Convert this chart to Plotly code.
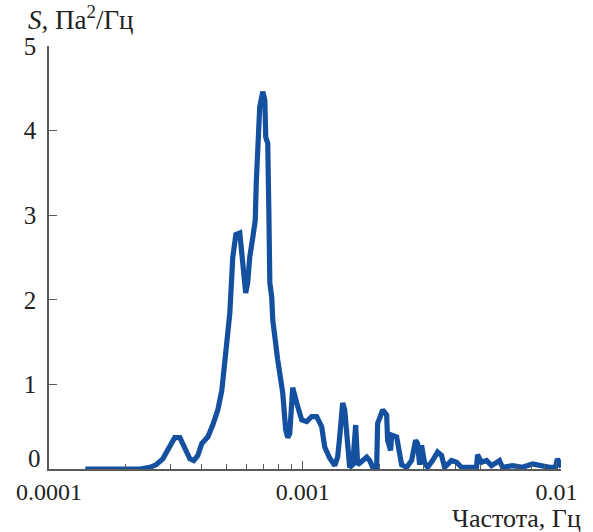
import plotly.graph_objects as go

# Frequency (Hz) and spectral density S (Pa^2/Hz)
freq = [1.39e-4, 1.59e-4, 1.90e-4, 2.28e-4, 2.50e-4, 2.64e-4, 2.81e-4, 2.97e-4,
        3.13e-4, 3.28e-4, 3.46e-4, 3.59e-4, 3.72e-4, 3.86e-4, 4.00e-4, 4.23e-4,
        4.42e-4, 4.63e-4, 4.80e-4, 4.93e-4, 5.07e-4, 5.16e-4, 5.30e-4, 5.45e-4,
        5.65e-4, 5.75e-4, 5.80e-4, 5.96e-4, 6.07e-4, 6.18e-4, 6.36e-4, 6.50e-4,
        6.56e-4, 6.65e-4, 6.77e-4, 6.96e-4, 7.09e-4, 7.15e-4, 7.28e-4, 7.35e-4,
        7.42e-4, 7.55e-4, 7.62e-4, 7.97e-4, 8.34e-4, 8.57e-4, 8.73e-4, 8.89e-4,
        9.13e-4, 9.47e-4, 9.91e-4, 1.037e-3, 1.085e-3, 1.135e-3, 1.188e-3, 1.221e-3,
        1.277e-3, 1.337e-3, 1.373e-3, 1.399e-3, 1.437e-3, 1.464e-3, 1.490e-3, 1.531e-3,
        1.574e-3, 1.602e-3, 1.617e-3, 1.647e-3, 1.723e-3, 1.787e-3, 1.836e-3, 1.887e-3,
        1.956e-3, 1.974e-3, 2.010e-3, 2.065e-3, 2.142e-3, 2.161e-3, 2.221e-3, 2.241e-3,
        2.345e-3, 2.410e-3, 2.454e-3, 2.568e-3, 2.686e-3, 2.786e-3, 2.837e-3, 2.889e-3,
        2.942e-3, 3.023e-3, 3.105e-3, 3.249e-3, 3.400e-3, 3.526e-3, 3.623e-3, 3.861e-3,
        4.040e-3, 4.227e-3, 4.423e-3, 4.628e-3, 4.842e-3, 4.887e-3, 5.067e-3, 5.302e-3,
        5.548e-3, 5.964e-3, 6.129e-3, 6.712e-3, 7.349e-3, 8.046e-3, 8.573e-3, 9.385e-3,
        9.91e-3, 1.009e-2, 1.046e-2]
S = [0.0, 0.0, 0.0, 0.0, 0.02, 0.05, 0.12, 0.25,
     0.37, 0.37, 0.22, 0.12, 0.10, 0.16, 0.30, 0.38,
     0.52, 0.70, 0.93, 1.29, 1.70, 1.84, 2.50, 2.77,
     2.79, 2.55, 2.32, 2.08, 2.20, 2.50, 2.74, 2.94,
     3.38, 3.92, 4.28, 4.46, 4.36, 3.92, 3.85, 3.10,
     2.20, 2.03, 1.76, 1.29, 0.90, 0.46, 0.37, 0.42,
     0.96, 0.78, 0.58, 0.56, 0.62, 0.62, 0.50, 0.26,
     0.13, 0.04, 0.14, 0.38, 0.78, 0.70, 0.34, 0.02,
     0.05, 0.45, 0.52, 0.05, 0.10, 0.14, 0.10, 0.02,
     0.02, 0.54, 0.60, 0.70, 0.64, 0.34, 0.22, 0.40,
     0.38, 0.19, 0.05, 0.02, 0.10, 0.34, 0.30, 0.05,
     0.28, 0.07, 0.02, 0.10, 0.20, 0.16, 0.02, 0.10,
     0.08, 0.02, 0.02, 0.02, 0.02, 0.17, 0.08, 0.10,
     0.04, 0.10, 0.02, 0.04, 0.02, 0.06, 0.04, 0.02,
     0.02, 0.12, 0.02]

x_tickvals = [1e-4, 1e-3, 1e-2]
x_ticktext = ["0.0001", "0.001", "0.01"]
y_tickvals = [0, 1, 2, 3, 4, 5]
y_ticktext = ["", "1", "2", "3", "4", "5"]

AX = "#5a5a5a"
FONT = "Liberation Serif"
TXT = "#222"

fig = go.Figure()
fig.add_trace(go.Scatter(x=freq, y=S, mode="lines",
                         line=dict(color="#1450a0", width=5.2),
                         showlegend=False))

fig.update_layout(
    width=593, height=532,
    margin=dict(l=49, r=32, t=46, b=63),
    paper_bgcolor="white", plot_bgcolor="white",
    font=dict(family=FONT, size=25, color=TXT),
    xaxis=dict(type="log", range=[-4, -1.982], automargin=False,
               tickvals=x_tickvals, ticktext=x_ticktext,
               ticks="inside", ticklen=8, tickwidth=1.3, tickcolor=AX,
               showline=True, linecolor=AX, linewidth=1.5,
               showgrid=False, zeroline=False, ticklabelstandoff=0,
               minor=dict(ticks="inside", ticklen=5, tickwidth=1.2, dtick="D1",
                          tickcolor=AX, showgrid=False),
               tickfont=dict(family=FONT, size=24, color=TXT)),
    yaxis=dict(range=[0, 5], tickvals=y_tickvals, ticktext=y_ticktext,
               automargin=False,
               ticks="inside", ticklen=8, tickwidth=1.3, tickcolor=AX,
               showline=True, linecolor=AX, linewidth=1.5,
               showgrid=False, zeroline=False, ticklabelstandoff=6,
               tickfont=dict(family=FONT, size=25, color=TXT)),
    annotations=[
        dict(text="0", xref="paper", yref="y", x=0, y=0,
             xanchor="right", yanchor="middle", xshift=-6, yshift=11,
             showarrow=False, font=dict(family=FONT, size=25, color=TXT)),
        dict(text="<i>S</i>, Па<sup>2</sup>/Гц", xref="paper", yref="paper",
             x=-0.045, y=1.0, xanchor="left", yanchor="middle", yshift=28,
             showarrow=False, font=dict(family=FONT, size=27, color=TXT)),
        dict(text="Частота, Гц", xref="paper", yref="paper",
             x=1.0, y=0, xanchor="right", yanchor="middle", xshift=21, yshift=-49,
             borderpad=0,
             showarrow=False, font=dict(family=FONT, size=26, color=TXT)),
    ],
)

fig.write_html("out.html", config={"displayModeBar": False},
               post_script="document.body.style.margin='0';document.body.style.padding='0';")
